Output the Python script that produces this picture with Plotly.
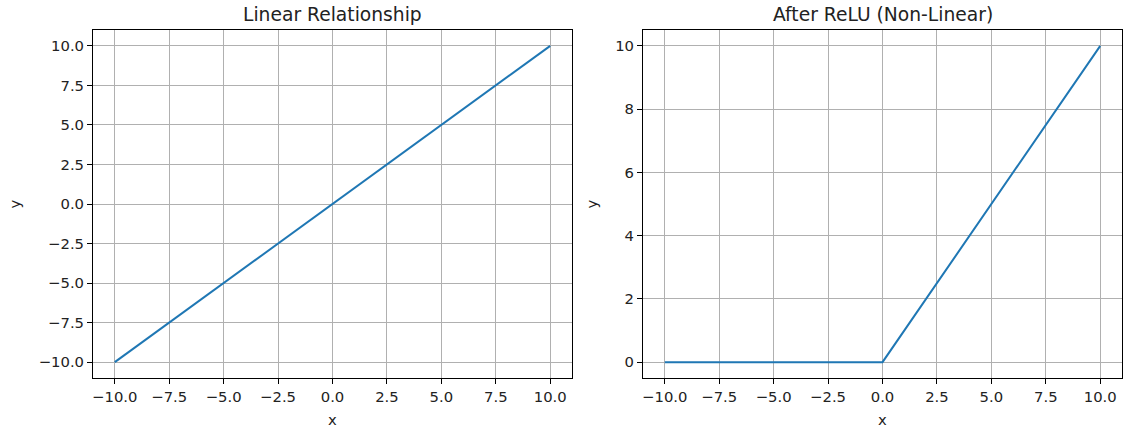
import plotly.graph_objects as go

# Data
lin_x = [-10, 10]
lin_y = [-10, 10]
relu_x = [-10, 0, 10]
relu_y = [0, 0, 10]
left_ticks = [-10.0, -7.5, -5.0, -2.5, 0.0, 2.5, 5.0, 7.5, 10.0]
right_yticks = [0, 2, 4, 6, 8, 10]
titles = ["Linear Relationship", "After ReLU (Non-Linear)"]

W, H = 1131, 430
FONT = "DejaVu Sans"
BLUE = "#1f77b4"
GRID = "#b0b0b0"
TS = 14.8

fig = go.Figure()
fig.add_trace(go.Scatter(x=lin_x, y=lin_y, mode="lines", line=dict(color=BLUE, width=2),
                         xaxis="x", yaxis="y", showlegend=False))
fig.add_trace(go.Scatter(x=relu_x, y=relu_y, mode="lines", line=dict(color=BLUE, width=2),
                         xaxis="x2", yaxis="y2", showlegend=False))

ydom = [1 - 378 / H, 1 - 30 / H]
xdom1 = [93 / W, 572 / W]
xdom2 = [643 / W, 1122 / W]

common = dict(showline=True, linecolor="black", linewidth=1, mirror=True,
              ticks="outside", ticklen=5, tickwidth=1, tickcolor="black",
              showgrid=True, gridcolor=GRID, gridwidth=1, zeroline=False,
              tickfont=dict(family=FONT, size=TS, color="#222"))

fig.update_layout(
    width=W, height=H, margin=dict(l=0, r=0, t=0, b=0),
    paper_bgcolor="white", plot_bgcolor="white",
    font=dict(family=FONT, size=TS, color="#222"),
    xaxis=dict(domain=xdom1, anchor="y", range=[-11, 11], tickvals=left_ticks, tickformat=".1f",
               title=dict(text="x", standoff=10, font=dict(family=FONT, size=TS)), **common),
    yaxis=dict(domain=ydom, anchor="x", range=[-11, 11], tickvals=left_ticks, tickformat=".1f",
               title=dict(text="y", standoff=14, font=dict(family=FONT, size=TS)), **common),
    xaxis2=dict(domain=xdom2, anchor="y2", range=[-11, 11], tickvals=left_ticks, tickformat=".1f",
                title=dict(text="x", standoff=10, font=dict(family=FONT, size=TS)), **common),
    yaxis2=dict(domain=ydom, anchor="x2", range=[-0.5, 10.5], tickvals=right_yticks, tickformat="d",
                title=dict(text="y", standoff=14, font=dict(family=FONT, size=TS)), **common),
)

for i, (t, d) in enumerate(zip(titles, [xdom1, xdom2])):
    fig.add_annotation(text=t, x=(d[0] + d[1]) / 2, y=ydom[1], xref="paper", yref="paper",
                       xanchor="center", yanchor="bottom", yshift=3, showarrow=False,
                       font=dict(family=FONT, size=18.7, color="#222"))

fig.write_html("out.html", config={"displayModeBar": False},
               post_script="document.body.style.margin='0';")
